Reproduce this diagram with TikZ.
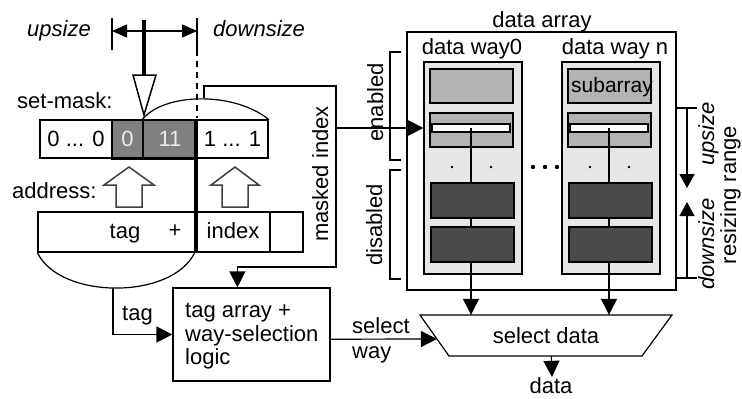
\documentclass[tikz,border=0pt]{standalone}
\usepackage{fontspec}
\setmainfont{Liberation Sans}
\usetikzlibrary{arrows.meta,calc}
\definecolor{maskgray}{HTML}{808080}
\definecolor{colgray}{HTML}{E6E6E6}
\definecolor{subgray}{HTML}{B3B3B3}
\definecolor{offgray}{HTML}{4A4A4A}
\begin{document}
\begin{tikzpicture}[x=1pt,y=-1pt,
  lw/.style={line width=1.2pt},
  box/.style={draw, line width=1.2pt, inner sep=0pt},
  lbl/.style={font=\fontsize{22}{25}\selectfont, inner sep=0pt},
  ilbl/.style={font=\fontsize{22}{25}\selectfont\itshape, inner sep=0pt},
  tri/.style={-{Triangle[length=16pt,width=16pt]}},
  smalltri/.style={-{Triangle[length=14pt,width=15pt]}},
  hollow/.style={draw, fill=white, line width=1.5pt, line join=miter},
  updown/.style={hollow, draw=black!75},
]
\useasboundingbox (0,0) rectangle (742,399);

% ---------- resize limits at the top ----------
\coordinate (limL) at (112,18);
\coordinate (limR) at (197,18);
\draw[lw] (limL) -- ++(0,32);
\draw[lw] (limR) -- ++(0,32) coordinate (dashTop);
\draw[lw, dash pattern=on 6pt off 5pt] (dashTop) -- (197,118);
\coordinate (rngL) at (112,31);
\coordinate (rngR) at (197,31);
\draw[lw, {Triangle[length=15pt,width=13pt]}-{Triangle[length=15pt,width=13pt]}] (rngL) -- (rngR);
\node[ilbl, anchor=base west] (upsz) at (27,36) {upsize};
\node[ilbl, anchor=base west] (dnsz) at (213,36) {downsize};

% movable mask pointer
\coordinate (ptrTop) at (144,20);
\coordinate (ptrMid) at (144,76);
\draw[line width=4pt] (ptrTop) -- (ptrMid);
\draw[hollow] (133,75) -- (156,75) -- (144,115) -- cycle;

% ---------- set-mask register ----------
\node[lbl, anchor=base west] (setmask) at (17,108) {set-mask:};
\node[box, lbl, minimum width=72pt, minimum height=38pt] (m0) at (76,139) {0 ... 0};
\node[box, lbl, fill=maskgray, text=white!92!black, minimum width=31pt, minimum height=38pt] (m1) at (127.5,139) {0};
\node[box, lbl, fill=maskgray, text=white!92!black, minimum width=54pt, minimum height=38pt] (m2) at (170,139) {11};
\node[box, lbl, minimum width=71pt, minimum height=38pt] (m3) at (232.5,139) {1 ... 1};
\draw[line width=2.6pt] (m1.south west) -- (m2.south east);

% brace over the index part of the mask
\coordinate (pk) at (204,98);
\draw[lw] (m2.north west) .. controls (165,92) and (235,92) .. (m3.north east);

% ---------- address ----------
\node[lbl, anchor=base west] (addr) at (12,198) {address:};
\draw[updown] (116,207) -- (116,185) -- (104,185) -- (129,167) -- (154,185) -- (142,185) -- (142,207) -- cycle;
\draw[updown] (222,207) -- (222,185) -- (211,185) -- (235,167) -- (259,185) -- (248,185) -- (248,207) -- cycle;
\node[box, minimum width=159pt, minimum height=40pt] (a0) at (117.5,232) {};
\node[box, minimum width=73pt, minimum height=40pt] (a1) at (233.5,232) {};
\node[box, minimum width=33pt, minimum height=40pt] (a2) at (286.5,232) {};
\node[lbl, anchor=base] (tagf) at (125,238) {tag};
\node[lbl, anchor=base] (plus) at (175,237) {+};
\node[lbl, anchor=base] (idxf) at (233,238) {index};

% tag / index split
\draw[line width=4pt] (m3.north west) -- (a1.south west);

% brace under the tag part of the address
\coordinate (ab) at (113,288);
\draw[lw] (a0.south west) .. controls (60,300) and (173,300) .. (195,252);

% ---------- tag array ----------
\node[box, minimum width=157pt, minimum height=93pt] (tl) at (251.5,334.5) {};
\node[lbl, anchor=base west] (tl1) at (185,317) {tag array +};
\node[lbl, anchor=base west] (tl2) at (185,341) {way-selection};
\node[lbl, anchor=base west] (tl3) at (185,364) {logic};

\draw[lw, tri] (ab) |- (tl.west);
\node[lbl, anchor=base west] (taglbl) at (122,320) {tag};

% masked index route
\coordinate (mjoin) at (336,128);
\draw[lw, tri] (pk) -- (204,86) -- (336,86) -- (336,267) -| ($(tl.north west)+(65,0)$);
\node[lbl, anchor=base, rotate=90] (midx) at (328,174) {masked index};

% ---------- data array ----------
\node[box, minimum width=269pt, minimum height=258pt] (da) at (541.5,161) {};
\node[lbl, anchor=base] (dalbl) at (542,27) {data array};
\node[lbl, anchor=base] (w0lbl) at (472,54) {data way0};
\node[lbl, anchor=base] (wnlbl) at (615,54) {data way n};

% way columns
\node[box, fill=colgray, minimum width=98pt, minimum height=212pt] (col0) at (473,168) {};
\node[box, fill=colgray, minimum width=98pt, minimum height=212pt] (coln) at (611,168) {};

\node[box, fill=subgray, minimum width=83pt, minimum height=34pt] (s01) at (471.5,86) {};
\node[box, fill=subgray, minimum width=83pt, minimum height=34pt] (s02) at (471.5,130) {};
\node[box, fill=white, minimum width=78pt, minimum height=8pt] (wb0) at (471,128) {};
\node[box, fill=subgray, minimum width=83pt, minimum height=34pt, lbl, font=\fontsize{21}{25}\selectfont] (sn1) at (609.5,86) {};
\node[lbl, anchor=base, font=\fontsize{21}{25}\selectfont] (sublbl) at (612,92) {subarray};
\node[box, fill=subgray, minimum width=83pt, minimum height=34pt] (sn2) at (609.5,130) {};
\node[box, fill=white, minimum width=78pt, minimum height=8pt] (wbn) at (609,128) {};

% select data multiplexer
\coordinate (sTL) at (420,315);
\coordinate (sTR) at (672,315);
\coordinate (sBR) at (642,356);
\coordinate (sBL) at (449,356);
\draw[lw, line join=miter] (sTL) -- (sTR) -- (sBR) -- (sBL) -- cycle;
\node[lbl, minimum width=252pt, minimum height=41pt] (sel) at (546,335.5) {select data};

% bit lines from the indexed row down to the multiplexer
\draw[lw, tri] (wb0.center) -- (wb0 |- sel.north);
\draw[lw, tri] (wbn.center) -- (wbn |- sel.north);

\node[box, fill=offgray, minimum width=83pt, minimum height=35pt] (d01) at (472.5,200.5) {};
\node[box, fill=offgray, minimum width=83pt, minimum height=35pt] (d02) at (472.5,244.5) {};
\node[box, fill=offgray, minimum width=83pt, minimum height=35pt] (dn1) at (610.5,200.5) {};
\node[box, fill=offgray, minimum width=83pt, minimum height=35pt] (dn2) at (610.5,244.5) {};

% dots
\foreach \x in {452,491,590,629} \fill (\x,167) circle (1.4pt);
\foreach \x in {533,545,557} \fill (\x,167) circle (2.2pt);

% index into the enabled ways
\draw[lw, tri] (mjoin) -- (col0.west |- wb0.center);

% enabled / disabled brackets
\draw[lw] (401,52) -- (390,52) -- (390,160) -- (401,160);
\draw[lw] (401,170) -- (390,170) -- (390,279) -- (401,279);
\node[lbl, anchor=base, rotate=90] (enlbl) at (383,102.5) {enabled};
\node[lbl, anchor=base, rotate=90] (dislbl) at (382,225) {disabled};

% resizing range
\coordinate (rtT) at (675,108);
\coordinate (rtB) at (675,278);
\draw[lw] (rtT) -- ++(22,0);
\draw[lw] (rtB) -- ++(22,0);
\draw[lw, smalltri] (687,108) -- (687,188);
\draw[lw, smalltri] (687,278) -- (687,202);
\node[ilbl, anchor=base, rotate=90] (rup) at (714,134) {upsize};
\node[ilbl, anchor=base, rotate=90] (rdn) at (714,244) {downsize};
\node[lbl, anchor=base, rotate=90] (rrng) at (736,195) {resizing range};

% way selection into the multiplexer
\draw[lw, tri] ($(tl.north east)!0.55!(tl.south east)$) -- ($(sTL)!0.585!(sBL)$);
\node[lbl, anchor=base west] (sel1) at (352,333) {select};
\node[lbl, anchor=base west] (sel2) at (352,358) {way};

% output
\node[lbl, anchor=base] (dout) at (551,393) {data};
\draw[lw, tri] ($(sBL)!0.53!(sBR)$) -- (dout.north -| 552,0);
\end{tikzpicture}
\end{document}
